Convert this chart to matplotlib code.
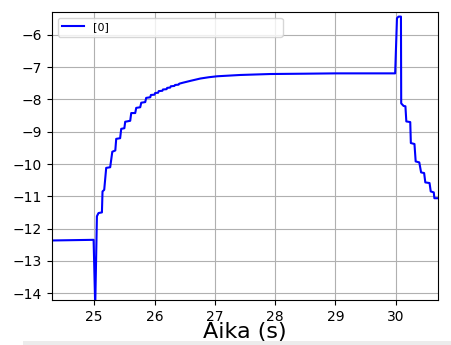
import numpy as np
import matplotlib.pyplot as plt
from matplotlib.patches import Rectangle

# measured signal, time in seconds
aika = [24.30, 24.99, 25.017, 25.045, 25.071, 25.128, 25.138, 25.166, 25.199,
        25.265, 25.30, 25.35, 25.365, 25.43, 25.448, 25.50, 25.514, 25.597,
        25.614, 25.68, 25.697, 25.763, 25.78, 25.846, 25.862, 25.93, 25.94,
        26.0, 26.01, 26.06, 26.07, 26.13, 26.14, 26.20, 26.21, 26.26, 26.27,
        26.33, 26.34, 26.40, 26.41, 26.47, 26.60, 26.76, 26.90, 27.04, 27.42,
        27.92, 28.5, 29.0, 29.5, 29.99, 30.02, 30.046, 30.086, 30.09, 30.13,
        30.16, 30.175, 30.24, 30.25, 30.31, 30.33, 30.39, 30.42, 30.47, 30.49,
        30.56, 30.58, 30.63, 30.64, 30.71]
arvo = [-12.37, -12.35, -14.40, -11.62, -11.52, -11.50, -10.85, -10.80, -10.12,
        -10.10, -9.62, -9.58, -9.22, -9.20, -8.91, -8.89, -8.69, -8.66,
        -8.42, -8.42, -8.26, -8.24, -8.10, -8.08, -7.95, -7.93, -7.86,
        -7.85, -7.80, -7.79, -7.74, -7.73, -7.69, -7.68, -7.64, -7.63, -7.59,
        -7.58, -7.55, -7.54, -7.51, -7.48, -7.42, -7.35, -7.31, -7.28, -7.24,
        -7.21, -7.20, -7.19, -7.19, -7.19, -5.48, -5.43, -5.43, -8.12, -8.20,
        -8.21, -8.68, -8.70, -9.35, -9.38, -9.92, -9.95, -10.26, -10.28, -10.57,
        -10.59, -10.85, -10.88, -11.06, -11.06]

fig = plt.figure(figsize=(4.52, 3.45), dpi=100)
ax = fig.add_axes([0.115, 0.13, 0.854, 0.835])

ax.plot(aika, arvo, color='blue', linewidth=1.5, label='[0]')
ax.set_xlim(24.30, 30.70)
ax.set_ylim(-14.22, -5.29)
ax.set_xticks([25, 26, 27, 28, 29, 30])
ax.set_yticks(np.arange(-14, -5, 1))
ax.grid(True, color='#b0b0b0', linewidth=0.8)
ax.set_xlabel('Aika (s)', fontsize=16, labelpad=-1)
ax.legend(loc='upper left', bbox_to_anchor=(0, 0, 0.612, 1), mode='expand',
          fontsize=8)

# thin grey strip along the bottom edge
fig.patches.append(Rectangle((0.05, 0), 0.95, 0.012, transform=fig.transFigure,
                             facecolor='#ececec', edgecolor='none', zorder=5))

fig.savefig('out.png', dpi=100)
